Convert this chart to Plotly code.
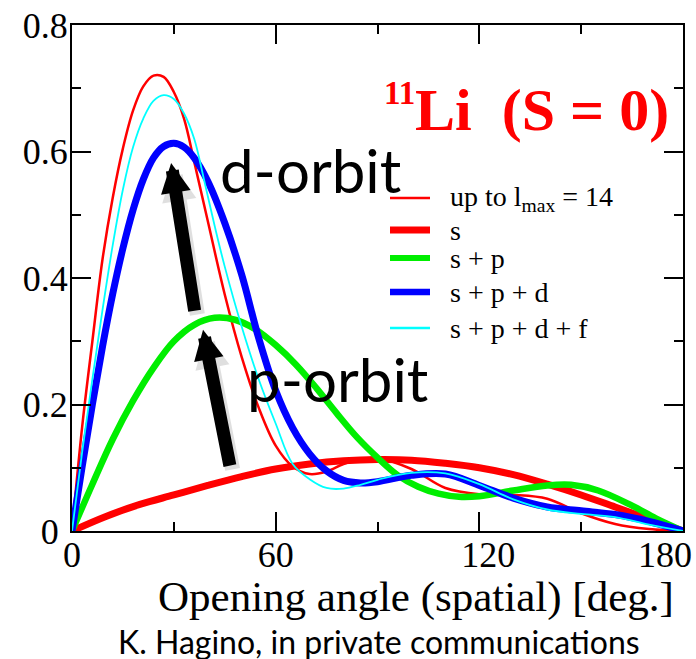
import plotly.graph_objects as go

# Full calculation, partial waves up to l_max = 14
angle_full = [0, 3, 6, 9, 12, 15, 18, 21, 24, 27, 30, 33, 36, 40, 45, 50, 55, 60,
              65, 70, 75, 80, 85, 90, 100, 110, 120, 130, 140, 150, 160, 170, 180]
full_lmax14 = [0, 0.165, 0.300, 0.430, 0.527, 0.605, 0.665, 0.703, 0.720, 0.718,
               0.694, 0.652, 0.584, 0.490, 0.374, 0.275, 0.195, 0.135,
               0.102, 0.090, 0.094, 0.106, 0.114, 0.115, 0.098, 0.068, 0.058,
               0.057, 0.051, 0.028, 0.011, 0.003, 0]

# s-wave only
angle_s = [0, 10, 20, 30, 40, 50, 60, 70, 80, 90, 100, 110, 120, 130, 140, 150,
           160, 170, 180]
s_only = [0, 0.023, 0.042, 0.057, 0.072, 0.086, 0.098, 0.106, 0.111, 0.113,
          0.112, 0.107, 0.100, 0.089, 0.074, 0.057, 0.038, 0.019, 0]

# s + p
angle_sp = [0, 6, 12, 18, 24, 30, 36, 42, 48, 54, 60, 66, 72, 78, 84, 90, 96,
            102, 108, 114, 120, 130, 140, 147, 155, 165, 172, 180]
s_p = [0, 0.074, 0.145, 0.206, 0.258, 0.300, 0.326, 0.337, 0.334, 0.319, 0.294,
       0.263, 0.226, 0.186, 0.148, 0.116, 0.088, 0.070, 0.059, 0.054, 0.055,
       0.064, 0.072, 0.073, 0.064, 0.040, 0.020, 0]

# s + p + d
angle_spd = [0, 3, 6, 9, 12, 15, 18, 21, 24, 27, 30, 33, 36, 40, 45, 50, 55, 60,
             65, 70, 75, 80, 85, 90, 100, 110, 120, 130, 140, 150, 160, 170, 180]
s_p_d = [0, 0.102, 0.200, 0.292, 0.375, 0.447, 0.508, 0.556, 0.590, 0.608, 0.613,
         0.607, 0.590, 0.553, 0.487, 0.405, 0.305, 0.222, 0.163, 0.122, 0.095,
         0.080, 0.076, 0.078, 0.088, 0.090, 0.072, 0.052, 0.038, 0.032, 0.026,
         0.015, 0]

# s + p + d + f
angle_spdf = [0, 3, 6, 9, 12, 15, 18, 21, 24, 27, 30, 33, 36, 39, 42, 45, 50, 55,
              60, 65, 70, 75, 80, 85, 90, 100, 110, 120, 130, 140, 150, 160, 170, 180]
s_p_d_f = [0, 0.125, 0.240, 0.350, 0.452, 0.540, 0.607, 0.652, 0.680, 0.689,
           0.683, 0.660, 0.620, 0.553, 0.483, 0.418, 0.323, 0.240, 0.170, 0.106,
           0.082, 0.068, 0.067, 0.073, 0.081, 0.092, 0.091, 0.074, 0.050, 0.034,
           0.027, 0.022, 0.010, 0]

series_names = ["up to l<sub>max</sub> = 14", "s", "s + p", "s + p + d", "s + p + d + f"]
series_x = [angle_full, angle_s, angle_sp, angle_spd, angle_spdf]
series_values = [full_lmax14, s_only, s_p, s_p_d, s_p_d_f]
series_colors = ["#ff0000", "#ff0000", "#00ee00", "#0000ff", "#00ffff"]
series_widths = [2.5, 7, 6.5, 7, 1.8]

x_ticks = [0, 60, 120, 180]
x_tick_text = ["0", "60", "\u00a0\u00a0120", "180\u00a0\u00a0\u00a0\u00a0"]
y_ticks = [0, 0.2, 0.4, 0.6, 0.8]
y_tick_text = ["0\u00a0", "0.2", "0.4", "0.6", "0.8"]

SERIF = "Liberation Serif"
SANS = "Lato"

fig = go.Figure()
for name, xs, vals, col, w in zip(series_names, series_x, series_values,
                                  series_colors, series_widths):
    fig.add_trace(go.Scatter(
        x=xs, y=vals, name=name, mode="lines",
        line=dict(color=col, width=w, shape="spline", smoothing=1.0),
        showlegend=False, hoverinfo="x+y+name",
    ))

axis_common = dict(
    showline=True, linecolor="black", linewidth=2, mirror="allticks",
    ticks="inside", ticklen=19, tickwidth=1.5, tickcolor="black",
    showgrid=False, zeroline=False, automargin=False,
    tickfont=dict(family=SERIF, size=36, color="black"),
)
fig.update_xaxes(range=[0, 180], tickvals=x_ticks, ticktext=x_tick_text,
                 minor=dict(dtick=30, ticks="inside", ticklen=9, tickwidth=1.5,
                            tickcolor="black", showgrid=False),
                 ticklabelstandoff=-9, ticklabeloverflow="allow", **axis_common)
fig.update_yaxes(range=[0, 0.8], tickvals=y_ticks, ticktext=y_tick_text,
                 minor=dict(dtick=0.1, ticks="inside", ticklen=9, tickwidth=1.5,
                            tickcolor="black", showgrid=False),
                 ticklabelstandoff=-5, **axis_common)

# Hand-built legend: sample line + label for each series
legend_rows_px = [198, 230, 258, 292, 328]
plot_left, plot_right, plot_top, plot_bottom = 72, 683, 25, 531


def px_to_paper(px, py):
    return ((px - plot_left) / (plot_right - plot_left),
            (plot_bottom - py) / (plot_bottom - plot_top))


legend_widths = [2.5, 7, 6, 6.5, 2.5]
for name, col, w, row in zip(series_names, series_colors, legend_widths, legend_rows_px):
    x0, y0 = px_to_paper(390, row)
    x1, _ = px_to_paper(430, row)
    fig.add_shape(type="line", xref="paper", yref="paper", x0=x0, x1=x1, y0=y0, y1=y0,
                  line=dict(color=col, width=w))
    tx, ty = px_to_paper(448, row)
    fig.add_annotation(xref="paper", yref="paper", x=tx, y=ty, text=name, showarrow=False,
                       xanchor="left", yanchor="middle",
                       font=dict(family=SERIF, size=28, color="black"))

# Nucleus label
fig.add_annotation(xref="paper", yref="paper", x=px_to_paper(413, 0)[0], y=px_to_paper(0, 110)[1],
                   text="Li\u00a0\u00a0(S = 0)", showarrow=False, xanchor="left", yanchor="middle",
                   font=dict(family=SERIF, size=60, color="#ff0000", weight="bold"))
fig.add_annotation(xref="paper", yref="paper", x=px_to_paper(382, 0)[0], y=px_to_paper(0, 93)[1],
                   text="11", showarrow=False, xanchor="left", yanchor="middle",
                   font=dict(family=SERIF, size=33, color="#ff0000", weight="bold"))

# Orbit labels
fig.add_annotation(xref="paper", yref="paper", x=px_to_paper(218, 0)[0], y=px_to_paper(0, 170)[1],
                   text="d-orbit", showarrow=False, xanchor="left", yanchor="middle",
                   font=dict(family=SANS, size=60, color="black"))
fig.add_annotation(xref="paper", yref="paper", x=px_to_paper(245, 0)[0], y=px_to_paper(0, 379)[1],
                   text="p-orbit", showarrow=False, xanchor="left", yanchor="middle",
                   font=dict(family=SANS, size=60, color="black"))

# Arrows (tip at x,y; tail at ax,ay), each with a faint shadow underneath
arrows = [((38.6, 0.318), (46.6, 0.101)), ((29.2, 0.582), (36.2, 0.346))]
for (tx, ty), (ax, ay) in arrows:
    fig.add_annotation(x=tx + 0.8, y=ty - 0.006, ax=ax + 0.8, ay=ay - 0.006,
                       xref="x", yref="y", axref="x", ayref="y",
                       showarrow=True, arrowhead=2, arrowsize=0.46, arrowwidth=15,
                       arrowcolor="rgba(0,0,0,0.12)", text="")
    fig.add_annotation(x=tx, y=ty, ax=ax, ay=ay, xref="x", yref="y", axref="x", ayref="y",
                       showarrow=True, arrowhead=2, arrowsize=0.46, arrowwidth=13,
                       arrowcolor="black", text="")

# Axis title and credit line
fig.add_annotation(xref="paper", yref="paper", x=px_to_paper(416, 0)[0], y=px_to_paper(0, 597)[1],
                   text="Opening angle (spatial) [deg.]", showarrow=False,
                   xanchor="center", yanchor="middle",
                   font=dict(family=SERIF, size=43, color="black"))
fig.add_annotation(xref="paper", yref="paper", x=px_to_paper(379, 0)[0], y=px_to_paper(0, 641)[1],
                   text="K. Hagino, in private communications", showarrow=False,
                   xanchor="center", yanchor="middle", borderpad=0,
                   font=dict(family=SANS, size=32, color="black"))

fig.update_layout(
    width=696, height=659,
    margin=dict(l=plot_left, r=696 - plot_right, t=plot_top, b=659 - plot_bottom),
    paper_bgcolor="white", plot_bgcolor="white",
    showlegend=False,
)

fig.write_html("out.html")
